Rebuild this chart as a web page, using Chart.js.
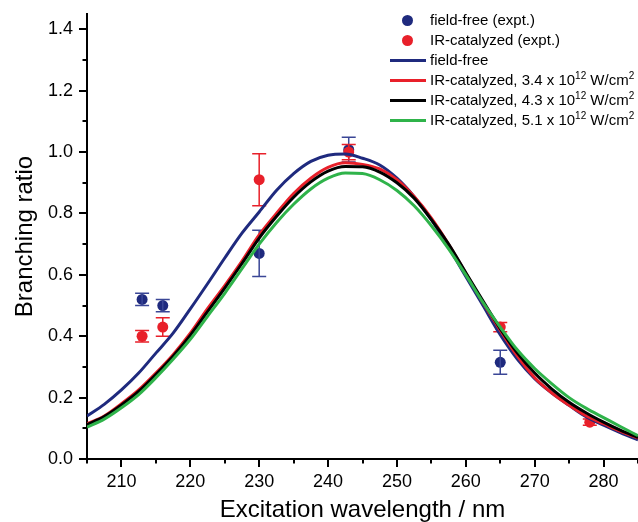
<!DOCTYPE html>
<html>
<head>
<meta charset="utf-8">
<script src="https://cdn.jsdelivr.net/npm/chart.js@4/dist/chart.umd.min.js"></script>
<style>
  body { margin: 0; background: #fff; }
  #wrap { position: relative; width: 638px; height: 522px; overflow: hidden; }
  #legend { position: absolute; left: 388px; top: 10px; font-family: "Liberation Sans", Arial, sans-serif; font-size: 15px; color: #000; }
  .row { position: relative; height: 20px; line-height: 20px; white-space: nowrap; }
  .mk { position: absolute; left: 0; top: 0; width: 40px; height: 20px; }
  .dot { position: absolute; left: 13.5px; top: 4.5px; width: 11px; height: 11px; border-radius: 50%; }
  .ln { position: absolute; left: 2px; top: 9px; width: 36px; height: 3px; }
  .tx { position: absolute; left: 42px; top: 0; }
  sup { font-size: 10px; vertical-align: 0; position: relative; top: -6px; }
</style>
</head>
<body>
<div id="wrap">
  <canvas id="c" width="638" height="522"></canvas>
  <div id="legend"></div>
</div>
<script>
// ---- data ----
const wavelengths = [205, 207.5, 210, 212.5, 215, 217.5, 220, 222.5, 225, 227.5, 230, 232.5, 235, 237.5, 240, 242.5,
                     245, 247.5, 250, 252.5, 255, 257.5, 260, 262.5, 265, 267.5, 270, 272.5, 275, 277.5, 280, 282.5, 285];
const fieldFreeTheory = [0.140, 0.178, 0.225, 0.280, 0.345, 0.410, 0.489, 0.571, 0.655, 0.736, 0.805, 0.875, 0.930, 0.970, 0.990, 0.994,
                         0.980, 0.958, 0.915, 0.855, 0.780, 0.690, 0.595, 0.500, 0.405, 0.325, 0.262, 0.215, 0.175, 0.137, 0.110, 0.085, 0.062];
const irCat34 = [0.115, 0.140, 0.180, 0.225, 0.280, 0.340, 0.410, 0.490, 0.565, 0.645, 0.730, 0.800, 0.865, 0.915, 0.950, 0.965,
                 0.960, 0.945, 0.910, 0.855, 0.785, 0.700, 0.605, 0.510, 0.420, 0.335, 0.265, 0.215, 0.175, 0.140, 0.115, 0.090, 0.068];
const irCat43 = [0.112, 0.138, 0.176, 0.220, 0.275, 0.335, 0.403, 0.480, 0.557, 0.637, 0.720, 0.790, 0.853, 0.903, 0.938, 0.953,
                 0.952, 0.935, 0.900, 0.850, 0.780, 0.700, 0.607, 0.515, 0.425, 0.345, 0.280, 0.228, 0.185, 0.150, 0.120, 0.093, 0.070];
const irCat51 = [0.104, 0.130, 0.167, 0.210, 0.265, 0.325, 0.390, 0.465, 0.540, 0.620, 0.700, 0.770, 0.830, 0.880, 0.915, 0.932,
                 0.930, 0.910, 0.875, 0.825, 0.760, 0.685, 0.600, 0.510, 0.430, 0.355, 0.295, 0.245, 0.200, 0.165, 0.135, 0.105, 0.076];

const ffExptX = [213, 216, 230, 243, 265];
const ffExptY = [0.520, 0.500, 0.670, 1.008, 0.315];
const ffExptErr = [0.020, 0.020, 0.075, 0.040, 0.039];

const irExptX = [213, 216, 230, 243, 265, 278];
const irExptY = [0.400, 0.430, 0.910, 1.000, 0.430, 0.120];
const irExptErr = [0.019, 0.030, 0.085, 0.025, 0.015, 0.010];

const xTickMin = 205, xTickMax = 285;
const yTickMin = 0, yTickMax = 1.45;

const NAVY = '#1f2a7e', RED = '#e8202a', BLACK = '#000000', GREEN = '#2fb34a';

const pairs = (xs, ys) => xs.map((x, i) => ({ x: x, y: ys[i] }));

const datasets = [
  { label: 'field-free (expt.)', kind: 'point', data: pairs(ffExptX, ffExptY), err: ffExptErr,
    backgroundColor: NAVY, borderColor: NAVY, errColor: '#3a4696', pointRadius: 5.5, showLine: false, order: 6 },
  { label: 'IR-catalyzed (expt.)', kind: 'point', data: pairs(irExptX, irExptY), err: irExptErr,
    backgroundColor: RED, borderColor: RED, errColor: RED, pointRadius: 5.5, showLine: false, order: 5 },
  { label: 'field-free', kind: 'line', data: pairs(wavelengths, fieldFreeTheory),
    borderColor: NAVY, borderWidth: 3, pointRadius: 0, showLine: true, cubicInterpolationMode: 'monotone', order: 4 },
  { label: 'IR-catalyzed, 3.4 x 10<sup>12</sup> W/cm<sup>2</sup>', kind: 'line', data: pairs(wavelengths, irCat34),
    borderColor: RED, borderWidth: 3, pointRadius: 0, showLine: true, cubicInterpolationMode: 'monotone', order: 3 },
  { label: 'IR-catalyzed, 4.3 x 10<sup>12</sup> W/cm<sup>2</sup>', kind: 'line', data: pairs(wavelengths, irCat43),
    borderColor: BLACK, borderWidth: 3, pointRadius: 0, showLine: true, cubicInterpolationMode: 'monotone', order: 2 },
  { label: 'IR-catalyzed, 5.1 x 10<sup>12</sup> W/cm<sup>2</sup>', kind: 'line', data: pairs(wavelengths, irCat51),
    borderColor: GREEN, borderWidth: 3, pointRadius: 0, showLine: true, cubicInterpolationMode: 'monotone', order: 1 }
];

// error bars drawn right after each point dataset
const errorBars = {
  id: 'errorBars',
  afterDatasetDraw(chart, args) {
    const ds = chart.data.datasets[args.index];
    if (!ds.err) return;
    const ctx = chart.ctx, xs = chart.scales.x, ys = chart.scales.y;
    ctx.save();
    ctx.strokeStyle = ds.errColor;
    ctx.lineWidth = 1.5;
    ds.data.forEach((p, i) => {
      const px = xs.getPixelForValue(p.x);
      const top = ys.getPixelForValue(p.y + ds.err[i]);
      const bot = ys.getPixelForValue(p.y - ds.err[i]);
      ctx.beginPath();
      ctx.moveTo(px, top); ctx.lineTo(px, bot);
      ctx.moveTo(px - 7, top); ctx.lineTo(px + 7, top);
      ctx.moveTo(px - 7, bot); ctx.lineTo(px + 7, bot);
      ctx.stroke();
    });
    ctx.restore();
  }
};

// major / minor outward tick marks
const axisTicks = {
  id: 'axisTicks',
  afterDraw(chart) {
    const ctx = chart.ctx, xs = chart.scales.x, ys = chart.scales.y;
    ctx.save();
    ctx.strokeStyle = '#000';
    ctx.lineWidth = 2;
    xs.ticks.forEach(t => {
      const px = Math.round(xs.getPixelForValue(t.value));
      const major = Math.round(t.value) % 10 === 0;
      ctx.beginPath();
      ctx.moveTo(px, xs.top);
      ctx.lineTo(px, xs.top + (major ? 8 : 4.5));
      ctx.stroke();
    });
    ys.ticks.forEach(t => {
      const py = Math.round(ys.getPixelForValue(t.value));
      const major = Math.round(t.value * 10) % 2 === 0;
      ctx.beginPath();
      ctx.moveTo(ys.right, py);
      ctx.lineTo(ys.right - (major ? 8 : 4.5), py);
      ctx.stroke();
    });
    ctx.restore();
  }
};

const FONT = '"Liberation Sans", Arial, sans-serif';

const chart = new Chart(document.getElementById('c'), {
  type: 'scatter',
  data: { datasets: datasets },
  options: {
    responsive: false,
    animation: false,
    layout: { autoPadding: false, padding: { top: 14, right: 0, left: 0, bottom: 0 } },
    plugins: { legend: { display: false }, tooltip: { enabled: false } },
    elements: { point: { borderWidth: 0 } },
    scales: {
      x: {
        type: 'linear', min: xTickMin, max: xTickMax,
        afterFit: s => { s.height = 63; s.paddingLeft = 0; s.paddingRight = 0; },
        grid: { display: false },
        border: { display: true, color: '#000', width: 2 },
        ticks: {
          stepSize: 5, padding: 4, color: '#000', maxRotation: 0, autoSkip: false,
          font: { family: FONT, size: 18 },
          callback: v => (Math.round(v) % 10 === 0 ? String(Math.round(v)) : '')
        },
        title: { display: true, text: 'Excitation wavelength / nm', color: '#000',
                 font: { family: FONT, size: 24, lineHeight: 1 }, padding: { top: 0, bottom: 0 } }
      },
      y: {
        type: 'linear', min: yTickMin, max: yTickMax,
        afterFit: s => { s.width = 87; s.paddingTop = 0; s.paddingBottom = 0; },
        grid: { display: false },
        border: { display: true, color: '#000', width: 2 },
        ticks: {
          stepSize: 0.1, includeBounds: false, padding: 6, color: '#000', autoSkip: false,
          font: { family: FONT, size: 18 },
          callback: v => { const r = Math.round(v * 10); return r % 2 === 0 ? (r / 10).toFixed(1) : ''; }
        },
        title: { display: true, text: 'Branching ratio', color: '#000',
                 font: { family: FONT, size: 24, lineHeight: 1 }, padding: { top: 13, bottom: 0 } }
      }
    }
  },
  plugins: [errorBars, axisTicks]
});

// HTML legend built from the datasets (allows superscripts)
const legendEl = document.getElementById('legend');
chart.data.datasets.forEach(ds => {
  const row = document.createElement('div');
  row.className = 'row';
  const mk = document.createElement('span');
  mk.className = 'mk';
  const sym = document.createElement('span');
  if (ds.kind === 'point') { sym.className = 'dot'; sym.style.background = ds.backgroundColor; }
  else { sym.className = 'ln'; sym.style.background = ds.borderColor; }
  mk.appendChild(sym);
  const tx = document.createElement('span');
  tx.className = 'tx';
  tx.innerHTML = ds.label;
  row.appendChild(mk); row.appendChild(tx);
  legendEl.appendChild(row);
});
</script>
</body>
</html>
